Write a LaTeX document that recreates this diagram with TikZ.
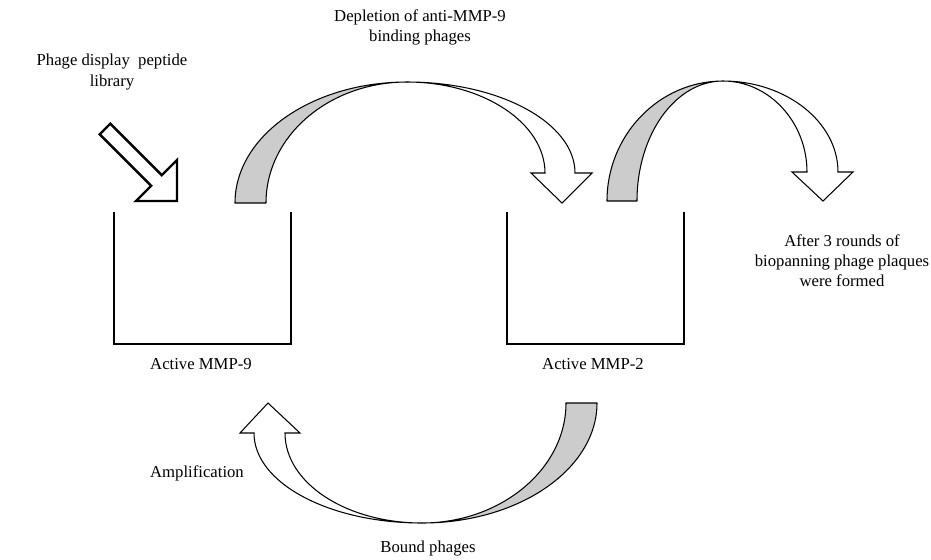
\documentclass[tikz,border=0pt]{standalone}
\usepackage{fontspec}
\setmainfont{Liberation Serif}

\begin{document}
\begin{tikzpicture}[
    x=0.02cm, y=-0.02cm,
    back/.style = {draw=black, fill=gray!40, line width=0.6pt, line join=round},
    front/.style = {draw=black, fill=white, line width=0.6pt, line join=miter},
    well/.style = {draw=black, line width=1.1pt},
    every node/.style={font=\fontsize{9.5}{11.4}\selectfont, align=center, inner sep=0pt}
]
  \useasboundingbox (0,0) rectangle (931,559);

  % labels
  \node (lib) at (112,72) {Phage display\ \ peptide\\library};
  \node (depl) at (420,27) {Depletion of anti-MMP-9\\binding phages};
  \node (after) at (842,261) {After 3 rounds of\\biopanning phage plaques\\were formed};
  \node (mmp9) at (201,364) {Active MMP-9};
  \node (mmp2) at (593,364) {Active MMP-2};
  \node (ampl) at (197,473) {Amplification};
  \node (bound) at (428,549) {Bound phages};

  % wells
  \draw[well] (114,212) -- (114,344) -- (291,344) -- (291,212);
  \draw[well] (507,212) -- (507,344) -- (684,344) -- (684,212);

  % library arrow
  \draw[front, line width=1.4pt] (110.3,123.7) -- (161.8,175.2) -- (177,160) -- (177,201)
    -- (136,201) -- (151.2,185.8) -- (99.7,134.3) -- cycle;

  % depletion arrow
  \draw[back] (235,203) .. controls (235,136) and (312,82) .. (407,82)
    .. controls (329,82) and (266,136) .. (266,203) -- cycle;
  \draw[front] (407,82) .. controls (500,82) and (575,123) .. (575,173) -- (592,173)
    -- (562,203) -- (531,173) -- (545,173) .. controls (545,123) and (483,82) .. (407,82) -- cycle;

  % plaques arrow
  \draw[back] (607,201) .. controls (607,135) and (659,81) .. (723,81)
    .. controls (675,81) and (637,135) .. (637,201) -- cycle;
  \draw[front] (723,81) .. controls (786,81) and (838,122) .. (838,172) -- (853,172)
    -- (823,201) -- (792,172) -- (807,172) .. controls (807,122) and (769,81) .. (723,81) -- cycle;

  % amplification arrow
  \draw[back] (597,403) .. controls (597,469) and (519,523) .. (422,523)
    .. controls (501,523) and (566,469) .. (566,403) -- cycle;
  \draw[front] (422,523) .. controls (329,523) and (254,483) .. (254,433) -- (240,433)
    -- (268,403) -- (300,433) -- (285,433) .. controls (285,483) and (346,523) .. (422,523) -- cycle;

\end{tikzpicture}
\end{document}
